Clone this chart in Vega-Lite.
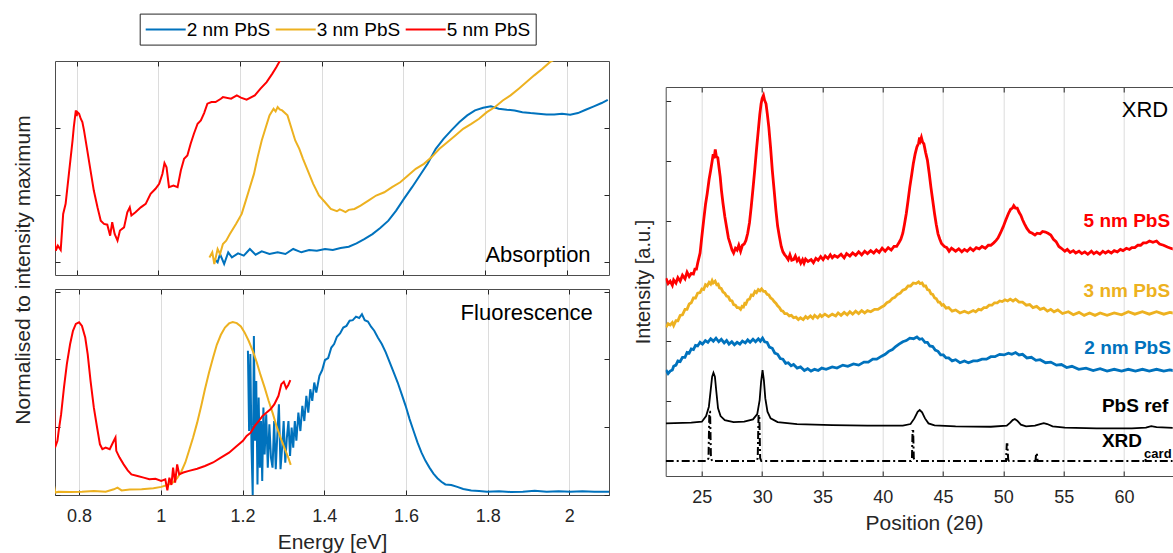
{
"$schema": "https://vega.github.io/schema/vega-lite/v6.json",
"background": "white",
"padding": {"left": 12, "top": 13, "right": 0, "bottom": 0},
"config": {
  "font": "Liberation Sans",
  "view": {"stroke": "#4d4d4d", "strokeWidth": 1},
  "axis": {"tickSize": -5, "labelPadding": 17, "domain": false, "grid": false, "tickColor": "#262626", "labelColor": "#262626", "titleColor": "#262626", "labelFontSize": 18, "titleFontSize": 21, "titleFontWeight": "normal", "domainColor": "#4d4d4d"}
},
"datasets": {
"abs": [
{"s":"2 nm PbS","E":1.137,"v":0.025},{"s":"2 nm PbS","E":1.145,"v":0.0},{"s":"2 nm PbS","E":1.151,"v":0.062},{"s":"2 nm PbS","E":1.161,"v":-0.012},{"s":"2 nm PbS","E":1.171,"v":0.075},{"s":"2 nm PbS","E":1.18,"v":0.037},{"s":"2 nm PbS","E":1.195,"v":0.067},{"s":"2 nm PbS","E":1.209,"v":0.05},{"s":"2 nm PbS","E":1.224,"v":0.1},{"s":"2 nm PbS","E":1.238,"v":0.057},{"s":"2 nm PbS","E":1.253,"v":0.082},{"s":"2 nm PbS","E":1.272,"v":0.062},{"s":"2 nm PbS","E":1.292,"v":0.075},{"s":"2 nm PbS","E":1.311,"v":0.062},{"s":"2 nm PbS","E":1.33,"v":0.1},{"s":"2 nm PbS","E":1.35,"v":0.075},{"s":"2 nm PbS","E":1.369,"v":0.092},{"s":"2 nm PbS","E":1.388,"v":0.087},{"s":"2 nm PbS","E":1.408,"v":0.1},{"s":"2 nm PbS","E":1.427,"v":0.092},{"s":"2 nm PbS","E":1.446,"v":0.107},{"s":"2 nm PbS","E":1.466,"v":0.117},{"s":"2 nm PbS","E":1.485,"v":0.142},{"s":"2 nm PbS","E":1.504,"v":0.174},{"s":"2 nm PbS","E":1.524,"v":0.211},{"s":"2 nm PbS","E":1.543,"v":0.256},{"s":"2 nm PbS","E":1.563,"v":0.311},{"s":"2 nm PbS","E":1.582,"v":0.386},{"s":"2 nm PbS","E":1.601,"v":0.473},{"s":"2 nm PbS","E":1.621,"v":0.56},{"s":"2 nm PbS","E":1.64,"v":0.647},{"s":"2 nm PbS","E":1.659,"v":0.734},{"s":"2 nm PbS","E":1.679,"v":0.846},{"s":"2 nm PbS","E":1.698,"v":0.92},{"s":"2 nm PbS","E":1.717,"v":0.983},{"s":"2 nm PbS","E":1.737,"v":1.045},{"s":"2 nm PbS","E":1.756,"v":1.095},{"s":"2 nm PbS","E":1.775,"v":1.132},{"s":"2 nm PbS","E":1.795,"v":1.152},{"s":"2 nm PbS","E":1.814,"v":1.162},{"s":"2 nm PbS","E":1.833,"v":1.144},{"s":"2 nm PbS","E":1.853,"v":1.137},{"s":"2 nm PbS","E":1.872,"v":1.132},{"s":"2 nm PbS","E":1.891,"v":1.119},{"s":"2 nm PbS","E":1.911,"v":1.112},{"s":"2 nm PbS","E":1.93,"v":1.107},{"s":"2 nm PbS","E":1.95,"v":1.102},{"s":"2 nm PbS","E":1.969,"v":1.102},{"s":"2 nm PbS","E":1.988,"v":1.107},{"s":"2 nm PbS","E":2.008,"v":1.1},{"s":"2 nm PbS","E":2.027,"v":1.112},{"s":"2 nm PbS","E":2.046,"v":1.137},{"s":"2 nm PbS","E":2.066,"v":1.162},{"s":"2 nm PbS","E":2.085,"v":1.187},{"s":"2 nm PbS","E":2.1,"v":1.211},
{"s":"3 nm PbS","E":1.125,"v":0.037},{"s":"3 nm PbS","E":1.132,"v":0.075},{"s":"3 nm PbS","E":1.137,"v":-0.012},{"s":"3 nm PbS","E":1.145,"v":0.1},{"s":"3 nm PbS","E":1.151,"v":0.062},{"s":"3 nm PbS","E":1.158,"v":0.137},{"s":"3 nm PbS","E":1.166,"v":0.162},{"s":"3 nm PbS","E":1.175,"v":0.211},{"s":"3 nm PbS","E":1.19,"v":0.286},{"s":"3 nm PbS","E":1.204,"v":0.361},{"s":"3 nm PbS","E":1.214,"v":0.46},{"s":"3 nm PbS","E":1.224,"v":0.56},{"s":"3 nm PbS","E":1.234,"v":0.659},{"s":"3 nm PbS","E":1.243,"v":0.784},{"s":"3 nm PbS","E":1.253,"v":0.908},{"s":"3 nm PbS","E":1.263,"v":1.007},{"s":"3 nm PbS","E":1.272,"v":1.095},{"s":"3 nm PbS","E":1.282,"v":1.144},{"s":"3 nm PbS","E":1.287,"v":1.125},{"s":"3 nm PbS","E":1.292,"v":1.157},{"s":"3 nm PbS","E":1.297,"v":1.14},{"s":"3 nm PbS","E":1.303,"v":1.132},{"s":"3 nm PbS","E":1.316,"v":1.095},{"s":"3 nm PbS","E":1.325,"v":1.007},{"s":"3 nm PbS","E":1.335,"v":0.908},{"s":"3 nm PbS","E":1.345,"v":0.846},{"s":"3 nm PbS","E":1.354,"v":0.771},{"s":"3 nm PbS","E":1.364,"v":0.697},{"s":"3 nm PbS","E":1.379,"v":0.585},{"s":"3 nm PbS","E":1.393,"v":0.498},{"s":"3 nm PbS","E":1.408,"v":0.448},{"s":"3 nm PbS","E":1.422,"v":0.398},{"s":"3 nm PbS","E":1.437,"v":0.381},{"s":"3 nm PbS","E":1.444,"v":0.395},{"s":"3 nm PbS","E":1.451,"v":0.386},{"s":"3 nm PbS","E":1.458,"v":0.375},{"s":"3 nm PbS","E":1.466,"v":0.391},{"s":"3 nm PbS","E":1.48,"v":0.398},{"s":"3 nm PbS","E":1.495,"v":0.423},{"s":"3 nm PbS","E":1.514,"v":0.46},{"s":"3 nm PbS","E":1.533,"v":0.498},{"s":"3 nm PbS","E":1.553,"v":0.522},{"s":"3 nm PbS","E":1.572,"v":0.56},{"s":"3 nm PbS","E":1.592,"v":0.597},{"s":"3 nm PbS","E":1.611,"v":0.647},{"s":"3 nm PbS","E":1.63,"v":0.697},{"s":"3 nm PbS","E":1.65,"v":0.734},{"s":"3 nm PbS","E":1.669,"v":0.784},{"s":"3 nm PbS","E":1.688,"v":0.846},{"s":"3 nm PbS","E":1.708,"v":0.896},{"s":"3 nm PbS","E":1.727,"v":0.945},{"s":"3 nm PbS","E":1.746,"v":0.995},{"s":"3 nm PbS","E":1.766,"v":1.032},{"s":"3 nm PbS","E":1.785,"v":1.07},{"s":"3 nm PbS","E":1.804,"v":1.119},{"s":"3 nm PbS","E":1.824,"v":1.157},{"s":"3 nm PbS","E":1.843,"v":1.206},{"s":"3 nm PbS","E":1.862,"v":1.244},{"s":"3 nm PbS","E":1.882,"v":1.294},{"s":"3 nm PbS","E":1.901,"v":1.343},{"s":"3 nm PbS","E":1.92,"v":1.393},{"s":"3 nm PbS","E":1.94,"v":1.443},{"s":"3 nm PbS","E":1.959,"v":1.493},{"s":"3 nm PbS","E":1.969,"v":1.51},
{"s":"5 nm PbS","E":0.744,"v":0.212},{"s":"5 nm PbS","E":0.749,"v":0.087},{"s":"5 nm PbS","E":0.754,"v":0.125},{"s":"5 nm PbS","E":0.761,"v":0.092},{"s":"5 nm PbS","E":0.767,"v":0.361},{"s":"5 nm PbS","E":0.773,"v":0.436},{"s":"5 nm PbS","E":0.781,"v":0.66},{"s":"5 nm PbS","E":0.79,"v":0.908},{"s":"5 nm PbS","E":0.793,"v":1.007},{"s":"5 nm PbS","E":0.798,"v":1.132},{"s":"5 nm PbS","E":0.8,"v":1.09},{"s":"5 nm PbS","E":0.802,"v":1.119},{"s":"5 nm PbS","E":0.806,"v":1.107},{"s":"5 nm PbS","E":0.81,"v":1.07},{"s":"5 nm PbS","E":0.814,"v":1.045},{"s":"5 nm PbS","E":0.818,"v":0.983},{"s":"5 nm PbS","E":0.826,"v":0.834},{"s":"5 nm PbS","E":0.834,"v":0.684},{"s":"5 nm PbS","E":0.842,"v":0.535},{"s":"5 nm PbS","E":0.851,"v":0.41},{"s":"5 nm PbS","E":0.859,"v":0.311},{"s":"5 nm PbS","E":0.867,"v":0.287},{"s":"5 nm PbS","E":0.875,"v":0.281},{"s":"5 nm PbS","E":0.882,"v":0.199},{"s":"5 nm PbS","E":0.887,"v":0.299},{"s":"5 nm PbS","E":0.893,"v":0.212},{"s":"5 nm PbS","E":0.9,"v":0.162},{"s":"5 nm PbS","E":0.906,"v":0.237},{"s":"5 nm PbS","E":0.916,"v":0.261},{"s":"5 nm PbS","E":0.924,"v":0.373},{"s":"5 nm PbS","E":0.93,"v":0.41},{"s":"5 nm PbS","E":0.934,"v":0.349},{"s":"5 nm PbS","E":0.944,"v":0.373},{"s":"5 nm PbS","E":0.957,"v":0.41},{"s":"5 nm PbS","E":0.969,"v":0.436},{"s":"5 nm PbS","E":0.981,"v":0.51},{"s":"5 nm PbS","E":0.993,"v":0.548},{"s":"5 nm PbS","E":1.002,"v":0.585},{"s":"5 nm PbS","E":1.01,"v":0.66},{"s":"5 nm PbS","E":1.015,"v":0.739},{"s":"5 nm PbS","E":1.02,"v":0.709},{"s":"5 nm PbS","E":1.026,"v":0.56},{"s":"5 nm PbS","E":1.037,"v":0.572},{"s":"5 nm PbS","E":1.047,"v":0.56},{"s":"5 nm PbS","E":1.055,"v":0.684},{"s":"5 nm PbS","E":1.063,"v":0.772},{"s":"5 nm PbS","E":1.071,"v":0.796},{"s":"5 nm PbS","E":1.079,"v":0.884},{"s":"5 nm PbS","E":1.087,"v":0.958},{"s":"5 nm PbS","E":1.096,"v":1.033},{"s":"5 nm PbS","E":1.104,"v":1.057},{"s":"5 nm PbS","E":1.112,"v":1.112},{"s":"5 nm PbS","E":1.12,"v":1.182},{"s":"5 nm PbS","E":1.13,"v":1.194},{"s":"5 nm PbS","E":1.14,"v":1.194},{"s":"5 nm PbS","E":1.153,"v":1.219},{"s":"5 nm PbS","E":1.158,"v":1.231},{"s":"5 nm PbS","E":1.178,"v":1.219},{"s":"5 nm PbS","E":1.192,"v":1.244},{"s":"5 nm PbS","E":1.202,"v":1.227},{"s":"5 nm PbS","E":1.216,"v":1.212},{"s":"5 nm PbS","E":1.236,"v":1.244},{"s":"5 nm PbS","E":1.25,"v":1.294},{"s":"5 nm PbS","E":1.265,"v":1.343},{"s":"5 nm PbS","E":1.279,"v":1.406},{"s":"5 nm PbS","E":1.289,"v":1.455},{"s":"5 nm PbS","E":1.299,"v":1.51}
],
"fluo": [
{"s":"2 nm PbS","E":1.2132,"v":0.532},{"s":"2 nm PbS","E":1.2161,"v":0.236},{"s":"2 nm PbS","E":1.2191,"v":0.52},{"s":"2 nm PbS","E":1.222,"v":0.175},{"s":"2 nm PbS","E":1.2249,"v":0.0},{"s":"2 nm PbS","E":1.2278,"v":0.587},{"s":"2 nm PbS","E":1.2307,"v":0.2},{"s":"2 nm PbS","E":1.2336,"v":0.421},{"s":"2 nm PbS","E":1.2366,"v":0.039},{"s":"2 nm PbS","E":1.2395,"v":0.36},{"s":"2 nm PbS","E":1.2424,"v":0.101},{"s":"2 nm PbS","E":1.2453,"v":0.273},{"s":"2 nm PbS","E":1.2482,"v":0.052},{"s":"2 nm PbS","E":1.2511,"v":0.323},{"s":"2 nm PbS","E":1.2541,"v":0.15},{"s":"2 nm PbS","E":1.258,"v":0.298},{"s":"2 nm PbS","E":1.2618,"v":0.101},{"s":"2 nm PbS","E":1.2657,"v":0.261},{"s":"2 nm PbS","E":1.2696,"v":0.138},{"s":"2 nm PbS","E":1.2735,"v":0.101},{"s":"2 nm PbS","E":1.2774,"v":0.273},{"s":"2 nm PbS","E":1.2813,"v":0.095},{"s":"2 nm PbS","E":1.2852,"v":0.224},{"s":"2 nm PbS","E":1.2891,"v":0.335},{"s":"2 nm PbS","E":1.293,"v":0.095},{"s":"2 nm PbS","E":1.2969,"v":0.175},{"s":"2 nm PbS","E":1.3007,"v":0.273},{"s":"2 nm PbS","E":1.3046,"v":0.119},{"s":"2 nm PbS","E":1.3085,"v":0.212},{"s":"2 nm PbS","E":1.3124,"v":0.273},{"s":"2 nm PbS","E":1.3163,"v":0.144},{"s":"2 nm PbS","E":1.3202,"v":0.249},{"s":"2 nm PbS","E":1.3241,"v":0.175},{"s":"2 nm PbS","E":1.328,"v":0.273},{"s":"2 nm PbS","E":1.3318,"v":0.2},{"s":"2 nm PbS","E":1.3367,"v":0.304},{"s":"2 nm PbS","E":1.3416,"v":0.236},{"s":"2 nm PbS","E":1.3464,"v":0.329},{"s":"2 nm PbS","E":1.3513,"v":0.273},{"s":"2 nm PbS","E":1.3562,"v":0.366},{"s":"2 nm PbS","E":1.361,"v":0.304},{"s":"2 nm PbS","E":1.3659,"v":0.39},{"s":"2 nm PbS","E":1.3707,"v":0.347},{"s":"2 nm PbS","E":1.3756,"v":0.415},{"s":"2 nm PbS","E":1.3805,"v":0.378},{"s":"2 nm PbS","E":1.3882,"v":0.44},{"s":"2 nm PbS","E":1.395,"v":0.461},{"s":"2 nm PbS","E":1.4018,"v":0.498},{"s":"2 nm PbS","E":1.4096,"v":0.505},{"s":"2 nm PbS","E":1.4174,"v":0.544},{"s":"2 nm PbS","E":1.4242,"v":0.557},{"s":"2 nm PbS","E":1.431,"v":0.584},{"s":"2 nm PbS","E":1.4388,"v":0.596},{"s":"2 nm PbS","E":1.4466,"v":0.618},{"s":"2 nm PbS","E":1.4544,"v":0.624},{"s":"2 nm PbS","E":1.4621,"v":0.643},{"s":"2 nm PbS","E":1.4699,"v":0.645},{"s":"2 nm PbS","E":1.4777,"v":0.658},{"s":"2 nm PbS","E":1.4855,"v":0.653},{"s":"2 nm PbS","E":1.4923,"v":0.667},{"s":"2 nm PbS","E":1.4991,"v":0.645},{"s":"2 nm PbS","E":1.5069,"v":0.64},{"s":"2 nm PbS","E":1.5146,"v":0.621},{"s":"2 nm PbS","E":1.5224,"v":0.606},{"s":"2 nm PbS","E":1.5312,"v":0.581},{"s":"2 nm PbS","E":1.5409,"v":0.557},{"s":"2 nm PbS","E":1.5506,"v":0.526},{"s":"2 nm PbS","E":1.5603,"v":0.489},{"s":"2 nm PbS","E":1.57,"v":0.452},{"s":"2 nm PbS","E":1.5798,"v":0.415},{"s":"2 nm PbS","E":1.5895,"v":0.372},{"s":"2 nm PbS","E":1.5992,"v":0.329},{"s":"2 nm PbS","E":1.6089,"v":0.28},{"s":"2 nm PbS","E":1.6187,"v":0.236},{"s":"2 nm PbS","E":1.6284,"v":0.193},{"s":"2 nm PbS","E":1.6381,"v":0.156},{"s":"2 nm PbS","E":1.6478,"v":0.126},{"s":"2 nm PbS","E":1.6576,"v":0.101},{"s":"2 nm PbS","E":1.6673,"v":0.079},{"s":"2 nm PbS","E":1.677,"v":0.062},{"s":"2 nm PbS","E":1.6867,"v":0.049},{"s":"2 nm PbS","E":1.6965,"v":0.039},{"s":"2 nm PbS","E":1.711,"v":0.037},{"s":"2 nm PbS","E":1.7256,"v":0.03},{"s":"2 nm PbS","E":1.7402,"v":0.022},{"s":"2 nm PbS","E":1.7597,"v":0.017},{"s":"2 nm PbS","E":1.7791,"v":0.015},{"s":"2 nm PbS","E":1.7985,"v":0.012},{"s":"2 nm PbS","E":1.8277,"v":0.014},{"s":"2 nm PbS","E":1.8569,"v":0.011},{"s":"2 nm PbS","E":1.8861,"v":0.012},{"s":"2 nm PbS","E":1.9152,"v":0.016},{"s":"2 nm PbS","E":1.9444,"v":0.012},{"s":"2 nm PbS","E":1.9736,"v":0.014},{"s":"2 nm PbS","E":2.0027,"v":0.012},{"s":"2 nm PbS","E":2.0319,"v":0.014},{"s":"2 nm PbS","E":2.0611,"v":0.012},{"s":"2 nm PbS","E":2.098,"v":0.012},
{"s":"3 nm PbS","E":0.737,"v":0.046},{"s":"3 nm PbS","E":0.742,"v":0.009},{"s":"3 nm PbS","E":0.749,"v":0.012},{"s":"3 nm PbS","E":0.778,"v":0.011},{"s":"3 nm PbS","E":0.807,"v":0.012},{"s":"3 nm PbS","E":0.836,"v":0.015},{"s":"3 nm PbS","E":0.865,"v":0.012},{"s":"3 nm PbS","E":0.885,"v":0.021},{"s":"3 nm PbS","E":0.894,"v":0.027},{"s":"3 nm PbS","E":0.904,"v":0.017},{"s":"3 nm PbS","E":0.924,"v":0.02},{"s":"3 nm PbS","E":0.953,"v":0.021},{"s":"3 nm PbS","E":0.982,"v":0.025},{"s":"3 nm PbS","E":1.001,"v":0.03},{"s":"3 nm PbS","E":1.016,"v":0.037},{"s":"3 nm PbS","E":1.03,"v":0.046},{"s":"3 nm PbS","E":1.04,"v":0.062},{"s":"3 nm PbS","E":1.05,"v":0.086},{"s":"3 nm PbS","E":1.06,"v":0.12},{"s":"3 nm PbS","E":1.069,"v":0.163},{"s":"3 nm PbS","E":1.079,"v":0.212},{"s":"3 nm PbS","E":1.089,"v":0.267},{"s":"3 nm PbS","E":1.099,"v":0.329},{"s":"3 nm PbS","E":1.108,"v":0.39},{"s":"3 nm PbS","E":1.118,"v":0.452},{"s":"3 nm PbS","E":1.128,"v":0.507},{"s":"3 nm PbS","E":1.137,"v":0.554},{"s":"3 nm PbS","E":1.147,"v":0.591},{"s":"3 nm PbS","E":1.157,"v":0.618},{"s":"3 nm PbS","E":1.167,"v":0.633},{"s":"3 nm PbS","E":1.176,"v":0.638},{"s":"3 nm PbS","E":1.186,"v":0.634},{"s":"3 nm PbS","E":1.196,"v":0.622},{"s":"3 nm PbS","E":1.205,"v":0.6},{"s":"3 nm PbS","E":1.215,"v":0.569},{"s":"3 nm PbS","E":1.225,"v":0.532},{"s":"3 nm PbS","E":1.235,"v":0.489},{"s":"3 nm PbS","E":1.244,"v":0.443},{"s":"3 nm PbS","E":1.254,"v":0.397},{"s":"3 nm PbS","E":1.264,"v":0.347},{"s":"3 nm PbS","E":1.274,"v":0.301},{"s":"3 nm PbS","E":1.283,"v":0.255},{"s":"3 nm PbS","E":1.293,"v":0.212},{"s":"3 nm PbS","E":1.303,"v":0.172},{"s":"3 nm PbS","E":1.312,"v":0.138},{"s":"3 nm PbS","E":1.318,"v":0.111},
{"s":"5 nm PbS","E":0.739,"v":0.317},{"s":"5 nm PbS","E":0.741,"v":0.175},{"s":"5 nm PbS","E":0.747,"v":0.2},{"s":"5 nm PbS","E":0.75,"v":0.237},{"s":"5 nm PbS","E":0.756,"v":0.298},{"s":"5 nm PbS","E":0.763,"v":0.397},{"s":"5 nm PbS","E":0.77,"v":0.483},{"s":"5 nm PbS","E":0.778,"v":0.557},{"s":"5 nm PbS","E":0.785,"v":0.606},{"s":"5 nm PbS","E":0.792,"v":0.631},{"s":"5 nm PbS","E":0.8,"v":0.637},{"s":"5 nm PbS","E":0.807,"v":0.624},{"s":"5 nm PbS","E":0.815,"v":0.581},{"s":"5 nm PbS","E":0.821,"v":0.52},{"s":"5 nm PbS","E":0.828,"v":0.421},{"s":"5 nm PbS","E":0.836,"v":0.323},{"s":"5 nm PbS","E":0.844,"v":0.249},{"s":"5 nm PbS","E":0.851,"v":0.187},{"s":"5 nm PbS","E":0.857,"v":0.169},{"s":"5 nm PbS","E":0.865,"v":0.175},{"s":"5 nm PbS","E":0.875,"v":0.169},{"s":"5 nm PbS","E":0.885,"v":0.2},{"s":"5 nm PbS","E":0.889,"v":0.212},{"s":"5 nm PbS","E":0.891,"v":0.163},{"s":"5 nm PbS","E":0.899,"v":0.138},{"s":"5 nm PbS","E":0.909,"v":0.113},{"s":"5 nm PbS","E":0.919,"v":0.091},{"s":"5 nm PbS","E":0.928,"v":0.076},{"s":"5 nm PbS","E":0.943,"v":0.07},{"s":"5 nm PbS","E":0.958,"v":0.064},{"s":"5 nm PbS","E":0.972,"v":0.058},{"s":"5 nm PbS","E":0.987,"v":0.06},{"s":"5 nm PbS","E":1.001,"v":0.052},{"s":"5 nm PbS","E":1.011,"v":0.058},{"s":"5 nm PbS","E":1.016,"v":0.017},{"s":"5 nm PbS","E":1.021,"v":0.064},{"s":"5 nm PbS","E":1.026,"v":0.037},{"s":"5 nm PbS","E":1.03,"v":0.101},{"s":"5 nm PbS","E":1.035,"v":0.046},{"s":"5 nm PbS","E":1.04,"v":0.113},{"s":"5 nm PbS","E":1.045,"v":0.076},{"s":"5 nm PbS","E":1.055,"v":0.083},{"s":"5 nm PbS","E":1.069,"v":0.089},{"s":"5 nm PbS","E":1.089,"v":0.097},{"s":"5 nm PbS","E":1.108,"v":0.107},{"s":"5 nm PbS","E":1.128,"v":0.12},{"s":"5 nm PbS","E":1.147,"v":0.138},{"s":"5 nm PbS","E":1.167,"v":0.156},{"s":"5 nm PbS","E":1.186,"v":0.181},{"s":"5 nm PbS","E":1.201,"v":0.2},{"s":"5 nm PbS","E":1.21,"v":0.218},{"s":"5 nm PbS","E":1.22,"v":0.23},{"s":"5 nm PbS","E":1.23,"v":0.255},{"s":"5 nm PbS","E":1.24,"v":0.273},{"s":"5 nm PbS","E":1.249,"v":0.292},{"s":"5 nm PbS","E":1.259,"v":0.304},{"s":"5 nm PbS","E":1.269,"v":0.317},{"s":"5 nm PbS","E":1.278,"v":0.335},{"s":"5 nm PbS","E":1.288,"v":0.366},{"s":"5 nm PbS","E":1.295,"v":0.409},{"s":"5 nm PbS","E":1.301,"v":0.418},{"s":"5 nm PbS","E":1.307,"v":0.394},{"s":"5 nm PbS","E":1.312,"v":0.406},{"s":"5 nm PbS","E":1.317,"v":0.424}
],
"xrd": [
{"s":"2 nm PbS","t":22.02,"v":1.52},{"s":"2 nm PbS","t":22.2,"v":1.46},{"s":"2 nm PbS","t":22.37,"v":1.5},{"s":"2 nm PbS","t":22.55,"v":1.52},{"s":"2 nm PbS","t":22.66,"v":1.58},{"s":"2 nm PbS","t":22.85,"v":1.6},{"s":"2 nm PbS","t":23.01,"v":1.67},{"s":"2 nm PbS","t":23.2,"v":1.66},{"s":"2 nm PbS","t":23.39,"v":1.73},{"s":"2 nm PbS","t":23.6,"v":1.73},{"s":"2 nm PbS","t":23.77,"v":1.81},{"s":"2 nm PbS","t":23.95,"v":1.8},{"s":"2 nm PbS","t":24.12,"v":1.87},{"s":"2 nm PbS","t":24.3,"v":1.86},{"s":"2 nm PbS","t":24.47,"v":1.93},{"s":"2 nm PbS","t":24.65,"v":1.92},{"s":"2 nm PbS","t":24.85,"v":1.98},{"s":"2 nm PbS","t":25.05,"v":1.95},{"s":"2 nm PbS","t":25.29,"v":2.01},{"s":"2 nm PbS","t":25.5,"v":1.98},{"s":"2 nm PbS","t":25.73,"v":2.04},{"s":"2 nm PbS","t":25.95,"v":2.0},{"s":"2 nm PbS","t":26.17,"v":2.05},{"s":"2 nm PbS","t":26.4,"v":1.99},{"s":"2 nm PbS","t":26.61,"v":2.03},{"s":"2 nm PbS","t":26.85,"v":1.97},{"s":"2 nm PbS","t":27.05,"v":2.01},{"s":"2 nm PbS","t":27.25,"v":1.95},{"s":"2 nm PbS","t":27.48,"v":1.99},{"s":"2 nm PbS","t":27.7,"v":1.94},{"s":"2 nm PbS","t":27.92,"v":1.98},{"s":"2 nm PbS","t":28.15,"v":1.95},{"s":"2 nm PbS","t":28.36,"v":2.0},{"s":"2 nm PbS","t":28.6,"v":1.97},{"s":"2 nm PbS","t":28.8,"v":2.02},{"s":"2 nm PbS","t":29.0,"v":1.98},{"s":"2 nm PbS","t":29.24,"v":2.03},{"s":"2 nm PbS","t":29.45,"v":1.99},{"s":"2 nm PbS","t":29.68,"v":2.04},{"s":"2 nm PbS","t":29.85,"v":2.0},{"s":"2 nm PbS","t":30.03,"v":2.05},{"s":"2 nm PbS","t":30.2,"v":1.99},{"s":"2 nm PbS","t":30.41,"v":1.98},{"s":"2 nm PbS","t":30.6,"v":1.9},{"s":"2 nm PbS","t":30.84,"v":1.88},{"s":"2 nm PbS","t":31.05,"v":1.8},{"s":"2 nm PbS","t":31.28,"v":1.78},{"s":"2 nm PbS","t":31.5,"v":1.71},{"s":"2 nm PbS","t":31.72,"v":1.7},{"s":"2 nm PbS","t":31.95,"v":1.63},{"s":"2 nm PbS","t":32.16,"v":1.64},{"s":"2 nm PbS","t":32.4,"v":1.59},{"s":"2 nm PbS","t":32.6,"v":1.61},{"s":"2 nm PbS","t":32.9,"v":1.55},{"s":"2 nm PbS","t":33.18,"v":1.57},{"s":"2 nm PbS","t":33.5,"v":1.51},{"s":"2 nm PbS","t":33.77,"v":1.54},{"s":"2 nm PbS","t":34.05,"v":1.5},{"s":"2 nm PbS","t":34.35,"v":1.53},{"s":"2 nm PbS","t":34.65,"v":1.51},{"s":"2 nm PbS","t":34.94,"v":1.55},{"s":"2 nm PbS","t":35.3,"v":1.53},{"s":"2 nm PbS","t":35.81,"v":1.57},{"s":"2 nm PbS","t":36.2,"v":1.55},{"s":"2 nm PbS","t":36.69,"v":1.6},{"s":"2 nm PbS","t":37.1,"v":1.58},{"s":"2 nm PbS","t":37.57,"v":1.62},{"s":"2 nm PbS","t":38.0,"v":1.6},{"s":"2 nm PbS","t":38.44,"v":1.65},{"s":"2 nm PbS","t":38.8,"v":1.65},{"s":"2 nm PbS","t":39.17,"v":1.7},{"s":"2 nm PbS","t":39.5,"v":1.7},{"s":"2 nm PbS","t":39.9,"v":1.75},{"s":"2 nm PbS","t":40.2,"v":1.78},{"s":"2 nm PbS","t":40.49,"v":1.83},{"s":"2 nm PbS","t":40.8,"v":1.86},{"s":"2 nm PbS","t":41.07,"v":1.91},{"s":"2 nm PbS","t":41.35,"v":1.95},{"s":"2 nm PbS","t":41.66,"v":1.99},{"s":"2 nm PbS","t":41.95,"v":2.01},{"s":"2 nm PbS","t":42.24,"v":2.05},{"s":"2 nm PbS","t":42.55,"v":2.04},{"s":"2 nm PbS","t":42.83,"v":2.07},{"s":"2 nm PbS","t":43.05,"v":2.03},{"s":"2 nm PbS","t":43.26,"v":2.04},{"s":"2 nm PbS","t":43.5,"v":1.98},{"s":"2 nm PbS","t":43.7,"v":1.98},{"s":"2 nm PbS","t":43.9,"v":1.92},{"s":"2 nm PbS","t":44.14,"v":1.91},{"s":"2 nm PbS","t":44.35,"v":1.85},{"s":"2 nm PbS","t":44.58,"v":1.83},{"s":"2 nm PbS","t":44.8,"v":1.77},{"s":"2 nm PbS","t":45.02,"v":1.77},{"s":"2 nm PbS","t":45.25,"v":1.72},{"s":"2 nm PbS","t":45.46,"v":1.72},{"s":"2 nm PbS","t":45.75,"v":1.67},{"s":"2 nm PbS","t":46.04,"v":1.69},{"s":"2 nm PbS","t":46.4,"v":1.64},{"s":"2 nm PbS","t":46.77,"v":1.67},{"s":"2 nm PbS","t":47.1,"v":1.64},{"s":"2 nm PbS","t":47.5,"v":1.67},{"s":"2 nm PbS","t":47.85,"v":1.67},{"s":"2 nm PbS","t":48.23,"v":1.7},{"s":"2 nm PbS","t":48.6,"v":1.7},{"s":"2 nm PbS","t":48.96,"v":1.74},{"s":"2 nm PbS","t":49.3,"v":1.74},{"s":"2 nm PbS","t":49.69,"v":1.78},{"s":"2 nm PbS","t":50.05,"v":1.77},{"s":"2 nm PbS","t":50.42,"v":1.8},{"s":"2 nm PbS","t":50.7,"v":1.78},{"s":"2 nm PbS","t":51.01,"v":1.81},{"s":"2 nm PbS","t":51.3,"v":1.77},{"s":"2 nm PbS","t":51.59,"v":1.78},{"s":"2 nm PbS","t":51.95,"v":1.72},{"s":"2 nm PbS","t":52.32,"v":1.73},{"s":"2 nm PbS","t":52.7,"v":1.68},{"s":"2 nm PbS","t":53.05,"v":1.69},{"s":"2 nm PbS","t":53.5,"v":1.64},{"s":"2 nm PbS","t":53.93,"v":1.65},{"s":"2 nm PbS","t":54.4,"v":1.6},{"s":"2 nm PbS","t":54.81,"v":1.61},{"s":"2 nm PbS","t":55.25,"v":1.56},{"s":"2 nm PbS","t":55.68,"v":1.58},{"s":"2 nm PbS","t":56.25,"v":1.53},{"s":"2 nm PbS","t":56.85,"v":1.55},{"s":"2 nm PbS","t":57.45,"v":1.51},{"s":"2 nm PbS","t":58.02,"v":1.54},{"s":"2 nm PbS","t":58.6,"v":1.5},{"s":"2 nm PbS","t":59.19,"v":1.53},{"s":"2 nm PbS","t":59.8,"v":1.5},{"s":"2 nm PbS","t":60.36,"v":1.53},{"s":"2 nm PbS","t":60.95,"v":1.5},{"s":"2 nm PbS","t":61.53,"v":1.53},{"s":"2 nm PbS","t":62.1,"v":1.5},{"s":"2 nm PbS","t":62.7,"v":1.53},{"s":"2 nm PbS","t":63.3,"v":1.5},{"s":"2 nm PbS","t":63.8,"v":1.52},{"s":"2 nm PbS","t":64.3,"v":1.5},
{"s":"3 nm PbS","t":22.02,"v":2.23},{"s":"3 nm PbS","t":22.2,"v":2.29},{"s":"3 nm PbS","t":22.37,"v":2.27},{"s":"3 nm PbS","t":22.55,"v":2.31},{"s":"3 nm PbS","t":22.66,"v":2.26},{"s":"3 nm PbS","t":22.85,"v":2.34},{"s":"3 nm PbS","t":23.01,"v":2.34},{"s":"3 nm PbS","t":23.2,"v":2.43},{"s":"3 nm PbS","t":23.39,"v":2.44},{"s":"3 nm PbS","t":23.6,"v":2.53},{"s":"3 nm PbS","t":23.77,"v":2.53},{"s":"3 nm PbS","t":23.95,"v":2.62},{"s":"3 nm PbS","t":24.12,"v":2.64},{"s":"3 nm PbS","t":24.3,"v":2.72},{"s":"3 nm PbS","t":24.47,"v":2.72},{"s":"3 nm PbS","t":24.65,"v":2.8},{"s":"3 nm PbS","t":24.85,"v":2.81},{"s":"3 nm PbS","t":25.0,"v":2.87},{"s":"3 nm PbS","t":25.15,"v":2.86},{"s":"3 nm PbS","t":25.3,"v":2.94},{"s":"3 nm PbS","t":25.44,"v":2.92},{"s":"3 nm PbS","t":25.6,"v":2.98},{"s":"3 nm PbS","t":25.73,"v":2.95},{"s":"3 nm PbS","t":25.85,"v":3.01},{"s":"3 nm PbS","t":25.94,"v":2.97},{"s":"3 nm PbS","t":26.1,"v":3.0},{"s":"3 nm PbS","t":26.23,"v":2.94},{"s":"3 nm PbS","t":26.35,"v":2.95},{"s":"3 nm PbS","t":26.46,"v":2.89},{"s":"3 nm PbS","t":26.6,"v":2.88},{"s":"3 nm PbS","t":26.75,"v":2.82},{"s":"3 nm PbS","t":26.9,"v":2.8},{"s":"3 nm PbS","t":27.05,"v":2.75},{"s":"3 nm PbS","t":27.2,"v":2.74},{"s":"3 nm PbS","t":27.34,"v":2.68},{"s":"3 nm PbS","t":27.5,"v":2.67},{"s":"3 nm PbS","t":27.63,"v":2.61},{"s":"3 nm PbS","t":27.78,"v":2.6},{"s":"3 nm PbS","t":27.92,"v":2.56},{"s":"3 nm PbS","t":28.06,"v":2.56},{"s":"3 nm PbS","t":28.21,"v":2.53},{"s":"3 nm PbS","t":28.33,"v":2.58},{"s":"3 nm PbS","t":28.45,"v":2.57},{"s":"3 nm PbS","t":28.55,"v":2.63},{"s":"3 nm PbS","t":28.65,"v":2.62},{"s":"3 nm PbS","t":28.8,"v":2.69},{"s":"3 nm PbS","t":28.95,"v":2.7},{"s":"3 nm PbS","t":29.1,"v":2.77},{"s":"3 nm PbS","t":29.24,"v":2.76},{"s":"3 nm PbS","t":29.4,"v":2.83},{"s":"3 nm PbS","t":29.53,"v":2.81},{"s":"3 nm PbS","t":29.68,"v":2.86},{"s":"3 nm PbS","t":29.82,"v":2.84},{"s":"3 nm PbS","t":29.95,"v":2.87},{"s":"3 nm PbS","t":30.11,"v":2.83},{"s":"3 nm PbS","t":30.25,"v":2.83},{"s":"3 nm PbS","t":30.41,"v":2.78},{"s":"3 nm PbS","t":30.55,"v":2.77},{"s":"3 nm PbS","t":30.7,"v":2.72},{"s":"3 nm PbS","t":30.85,"v":2.7},{"s":"3 nm PbS","t":30.99,"v":2.66},{"s":"3 nm PbS","t":31.15,"v":2.63},{"s":"3 nm PbS","t":31.28,"v":2.59},{"s":"3 nm PbS","t":31.43,"v":2.56},{"s":"3 nm PbS","t":31.58,"v":2.51},{"s":"3 nm PbS","t":31.72,"v":2.5},{"s":"3 nm PbS","t":31.87,"v":2.46},{"s":"3 nm PbS","t":32.05,"v":2.46},{"s":"3 nm PbS","t":32.25,"v":2.42},{"s":"3 nm PbS","t":32.42,"v":2.43},{"s":"3 nm PbS","t":32.6,"v":2.39},{"s":"3 nm PbS","t":32.8,"v":2.4},{"s":"3 nm PbS","t":33.0,"v":2.36},{"s":"3 nm PbS","t":33.18,"v":2.39},{"s":"3 nm PbS","t":33.4,"v":2.36},{"s":"3 nm PbS","t":33.6,"v":2.41},{"s":"3 nm PbS","t":33.77,"v":2.38},{"s":"3 nm PbS","t":34.0,"v":2.42},{"s":"3 nm PbS","t":34.2,"v":2.38},{"s":"3 nm PbS","t":34.35,"v":2.43},{"s":"3 nm PbS","t":34.6,"v":2.39},{"s":"3 nm PbS","t":34.8,"v":2.44},{"s":"3 nm PbS","t":34.94,"v":2.41},{"s":"3 nm PbS","t":35.2,"v":2.45},{"s":"3 nm PbS","t":35.5,"v":2.41},{"s":"3 nm PbS","t":35.81,"v":2.45},{"s":"3 nm PbS","t":36.1,"v":2.42},{"s":"3 nm PbS","t":36.3,"v":2.47},{"s":"3 nm PbS","t":36.54,"v":2.43},{"s":"3 nm PbS","t":36.8,"v":2.48},{"s":"3 nm PbS","t":37.05,"v":2.44},{"s":"3 nm PbS","t":37.27,"v":2.49},{"s":"3 nm PbS","t":37.5,"v":2.45},{"s":"3 nm PbS","t":37.75,"v":2.5},{"s":"3 nm PbS","t":38.0,"v":2.46},{"s":"3 nm PbS","t":38.25,"v":2.51},{"s":"3 nm PbS","t":38.5,"v":2.47},{"s":"3 nm PbS","t":38.73,"v":2.51},{"s":"3 nm PbS","t":39.0,"v":2.49},{"s":"3 nm PbS","t":39.32,"v":2.53},{"s":"3 nm PbS","t":39.6,"v":2.53},{"s":"3 nm PbS","t":39.9,"v":2.57},{"s":"3 nm PbS","t":40.1,"v":2.59},{"s":"3 nm PbS","t":40.34,"v":2.64},{"s":"3 nm PbS","t":40.55,"v":2.66},{"s":"3 nm PbS","t":40.78,"v":2.71},{"s":"3 nm PbS","t":41.0,"v":2.73},{"s":"3 nm PbS","t":41.22,"v":2.78},{"s":"3 nm PbS","t":41.45,"v":2.8},{"s":"3 nm PbS","t":41.66,"v":2.85},{"s":"3 nm PbS","t":41.9,"v":2.87},{"s":"3 nm PbS","t":42.1,"v":2.92},{"s":"3 nm PbS","t":42.3,"v":2.92},{"s":"3 nm PbS","t":42.53,"v":2.97},{"s":"3 nm PbS","t":42.75,"v":2.96},{"s":"3 nm PbS","t":42.97,"v":2.99},{"s":"3 nm PbS","t":43.1,"v":2.96},{"s":"3 nm PbS","t":43.26,"v":2.97},{"s":"3 nm PbS","t":43.4,"v":2.92},{"s":"3 nm PbS","t":43.56,"v":2.92},{"s":"3 nm PbS","t":43.7,"v":2.86},{"s":"3 nm PbS","t":43.85,"v":2.85},{"s":"3 nm PbS","t":44.0,"v":2.79},{"s":"3 nm PbS","t":44.14,"v":2.78},{"s":"3 nm PbS","t":44.3,"v":2.72},{"s":"3 nm PbS","t":44.43,"v":2.71},{"s":"3 nm PbS","t":44.6,"v":2.65},{"s":"3 nm PbS","t":44.73,"v":2.65},{"s":"3 nm PbS","t":44.9,"v":2.6},{"s":"3 nm PbS","t":45.02,"v":2.61},{"s":"3 nm PbS","t":45.25,"v":2.55},{"s":"3 nm PbS","t":45.46,"v":2.56},{"s":"3 nm PbS","t":45.75,"v":2.5},{"s":"3 nm PbS","t":46.04,"v":2.52},{"s":"3 nm PbS","t":46.4,"v":2.47},{"s":"3 nm PbS","t":46.77,"v":2.5},{"s":"3 nm PbS","t":47.1,"v":2.47},{"s":"3 nm PbS","t":47.5,"v":2.51},{"s":"3 nm PbS","t":47.7,"v":2.49},{"s":"3 nm PbS","t":47.94,"v":2.53},{"s":"3 nm PbS","t":48.15,"v":2.52},{"s":"3 nm PbS","t":48.38,"v":2.56},{"s":"3 nm PbS","t":48.6,"v":2.56},{"s":"3 nm PbS","t":48.82,"v":2.6},{"s":"3 nm PbS","t":49.05,"v":2.6},{"s":"3 nm PbS","t":49.26,"v":2.64},{"s":"3 nm PbS","t":49.5,"v":2.64},{"s":"3 nm PbS","t":49.69,"v":2.67},{"s":"3 nm PbS","t":49.9,"v":2.66},{"s":"3 nm PbS","t":50.13,"v":2.69},{"s":"3 nm PbS","t":50.35,"v":2.67},{"s":"3 nm PbS","t":50.57,"v":2.7},{"s":"3 nm PbS","t":50.8,"v":2.67},{"s":"3 nm PbS","t":51.01,"v":2.7},{"s":"3 nm PbS","t":51.3,"v":2.65},{"s":"3 nm PbS","t":51.59,"v":2.65},{"s":"3 nm PbS","t":51.9,"v":2.6},{"s":"3 nm PbS","t":52.18,"v":2.61},{"s":"3 nm PbS","t":52.45,"v":2.56},{"s":"3 nm PbS","t":52.76,"v":2.58},{"s":"3 nm PbS","t":53.05,"v":2.53},{"s":"3 nm PbS","t":53.35,"v":2.55},{"s":"3 nm PbS","t":53.65,"v":2.5},{"s":"3 nm PbS","t":53.93,"v":2.53},{"s":"3 nm PbS","t":54.2,"v":2.49},{"s":"3 nm PbS","t":54.51,"v":2.52},{"s":"3 nm PbS","t":54.9,"v":2.46},{"s":"3 nm PbS","t":55.39,"v":2.49},{"s":"3 nm PbS","t":55.8,"v":2.44},{"s":"3 nm PbS","t":56.27,"v":2.48},{"s":"3 nm PbS","t":56.7,"v":2.43},{"s":"3 nm PbS","t":57.15,"v":2.47},{"s":"3 nm PbS","t":57.6,"v":2.43},{"s":"3 nm PbS","t":58.02,"v":2.47},{"s":"3 nm PbS","t":58.6,"v":2.43},{"s":"3 nm PbS","t":59.19,"v":2.47},{"s":"3 nm PbS","t":59.8,"v":2.44},{"s":"3 nm PbS","t":60.36,"v":2.49},{"s":"3 nm PbS","t":60.9,"v":2.45},{"s":"3 nm PbS","t":61.53,"v":2.49},{"s":"3 nm PbS","t":62.1,"v":2.45},{"s":"3 nm PbS","t":62.7,"v":2.49},{"s":"3 nm PbS","t":63.3,"v":2.45},{"s":"3 nm PbS","t":63.8,"v":2.48},{"s":"3 nm PbS","t":64.3,"v":2.46},
{"s":"5 nm PbS","t":22.02,"v":3.05},{"s":"5 nm PbS","t":22.2,"v":2.96},{"s":"5 nm PbS","t":22.37,"v":3.0},{"s":"5 nm PbS","t":22.55,"v":2.93},{"s":"5 nm PbS","t":22.66,"v":3.02},{"s":"5 nm PbS","t":22.85,"v":2.97},{"s":"5 nm PbS","t":23.01,"v":3.06},{"s":"5 nm PbS","t":23.2,"v":3.0},{"s":"5 nm PbS","t":23.39,"v":3.1},{"s":"5 nm PbS","t":23.6,"v":3.04},{"s":"5 nm PbS","t":23.77,"v":3.15},{"s":"5 nm PbS","t":23.95,"v":3.08},{"s":"5 nm PbS","t":24.12,"v":3.13},{"s":"5 nm PbS","t":24.3,"v":3.12},{"s":"5 nm PbS","t":24.42,"v":3.2},{"s":"5 nm PbS","t":24.55,"v":3.2},{"s":"5 nm PbS","t":24.65,"v":3.3},{"s":"5 nm PbS","t":24.85,"v":3.47},{"s":"5 nm PbS","t":25.0,"v":3.75},{"s":"5 nm PbS","t":25.15,"v":4.02},{"s":"5 nm PbS","t":25.3,"v":4.28},{"s":"5 nm PbS","t":25.44,"v":4.46},{"s":"5 nm PbS","t":25.6,"v":4.7},{"s":"5 nm PbS","t":25.73,"v":4.85},{"s":"5 nm PbS","t":25.85,"v":5.0},{"s":"5 nm PbS","t":25.94,"v":5.12},{"s":"5 nm PbS","t":26.02,"v":5.05},{"s":"5 nm PbS","t":26.11,"v":5.2},{"s":"5 nm PbS","t":26.2,"v":5.08},{"s":"5 nm PbS","t":26.32,"v":5.06},{"s":"5 nm PbS","t":26.42,"v":4.9},{"s":"5 nm PbS","t":26.52,"v":4.74},{"s":"5 nm PbS","t":26.62,"v":4.52},{"s":"5 nm PbS","t":26.75,"v":4.3},{"s":"5 nm PbS","t":26.9,"v":4.08},{"s":"5 nm PbS","t":27.05,"v":3.9},{"s":"5 nm PbS","t":27.2,"v":3.72},{"s":"5 nm PbS","t":27.34,"v":3.63},{"s":"5 nm PbS","t":27.5,"v":3.52},{"s":"5 nm PbS","t":27.63,"v":3.47},{"s":"5 nm PbS","t":27.78,"v":3.55},{"s":"5 nm PbS","t":27.92,"v":3.52},{"s":"5 nm PbS","t":28.06,"v":3.6},{"s":"5 nm PbS","t":28.21,"v":3.5},{"s":"5 nm PbS","t":28.36,"v":3.6},{"s":"5 nm PbS","t":28.51,"v":3.62},{"s":"5 nm PbS","t":28.65,"v":3.68},{"s":"5 nm PbS","t":28.8,"v":3.8},{"s":"5 nm PbS","t":28.95,"v":3.98},{"s":"5 nm PbS","t":29.09,"v":4.24},{"s":"5 nm PbS","t":29.24,"v":4.55},{"s":"5 nm PbS","t":29.38,"v":4.85},{"s":"5 nm PbS","t":29.53,"v":5.2},{"s":"5 nm PbS","t":29.68,"v":5.52},{"s":"5 nm PbS","t":29.8,"v":5.78},{"s":"5 nm PbS","t":29.91,"v":5.96},{"s":"5 nm PbS","t":30.0,"v":6.05},{"s":"5 nm PbS","t":30.11,"v":6.1},{"s":"5 nm PbS","t":30.2,"v":6.02},{"s":"5 nm PbS","t":30.32,"v":5.96},{"s":"5 nm PbS","t":30.42,"v":5.8},{"s":"5 nm PbS","t":30.55,"v":5.57},{"s":"5 nm PbS","t":30.7,"v":5.22},{"s":"5 nm PbS","t":30.84,"v":4.85},{"s":"5 nm PbS","t":31.0,"v":4.5},{"s":"5 nm PbS","t":31.14,"v":4.18},{"s":"5 nm PbS","t":31.28,"v":3.92},{"s":"5 nm PbS","t":31.43,"v":3.74},{"s":"5 nm PbS","t":31.58,"v":3.58},{"s":"5 nm PbS","t":31.72,"v":3.49},{"s":"5 nm PbS","t":31.87,"v":3.44},{"s":"5 nm PbS","t":32.0,"v":3.41},{"s":"5 nm PbS","t":32.16,"v":3.36},{"s":"5 nm PbS","t":32.3,"v":3.44},{"s":"5 nm PbS","t":32.45,"v":3.35},{"s":"5 nm PbS","t":32.6,"v":3.36},{"s":"5 nm PbS","t":32.75,"v":3.42},{"s":"5 nm PbS","t":32.9,"v":3.34},{"s":"5 nm PbS","t":33.04,"v":3.38},{"s":"5 nm PbS","t":33.2,"v":3.3},{"s":"5 nm PbS","t":33.35,"v":3.36},{"s":"5 nm PbS","t":33.47,"v":3.3},{"s":"5 nm PbS","t":33.6,"v":3.37},{"s":"5 nm PbS","t":33.8,"v":3.33},{"s":"5 nm PbS","t":34.06,"v":3.36},{"s":"5 nm PbS","t":34.25,"v":3.31},{"s":"5 nm PbS","t":34.45,"v":3.38},{"s":"5 nm PbS","t":34.64,"v":3.35},{"s":"5 nm PbS","t":34.85,"v":3.41},{"s":"5 nm PbS","t":35.05,"v":3.36},{"s":"5 nm PbS","t":35.23,"v":3.42},{"s":"5 nm PbS","t":35.45,"v":3.38},{"s":"5 nm PbS","t":35.65,"v":3.44},{"s":"5 nm PbS","t":35.81,"v":3.39},{"s":"5 nm PbS","t":36.0,"v":3.43},{"s":"5 nm PbS","t":36.25,"v":3.4},{"s":"5 nm PbS","t":36.54,"v":3.45},{"s":"5 nm PbS","t":36.8,"v":3.39},{"s":"5 nm PbS","t":37.0,"v":3.46},{"s":"5 nm PbS","t":37.27,"v":3.42},{"s":"5 nm PbS","t":37.5,"v":3.47},{"s":"5 nm PbS","t":37.75,"v":3.43},{"s":"5 nm PbS","t":38.0,"v":3.49},{"s":"5 nm PbS","t":38.25,"v":3.44},{"s":"5 nm PbS","t":38.5,"v":3.5},{"s":"5 nm PbS","t":38.73,"v":3.46},{"s":"5 nm PbS","t":39.0,"v":3.51},{"s":"5 nm PbS","t":39.25,"v":3.47},{"s":"5 nm PbS","t":39.47,"v":3.52},{"s":"5 nm PbS","t":39.7,"v":3.48},{"s":"5 nm PbS","t":39.95,"v":3.55},{"s":"5 nm PbS","t":40.2,"v":3.5},{"s":"5 nm PbS","t":40.45,"v":3.56},{"s":"5 nm PbS","t":40.7,"v":3.52},{"s":"5 nm PbS","t":40.93,"v":3.58},{"s":"5 nm PbS","t":41.15,"v":3.58},{"s":"5 nm PbS","t":41.36,"v":3.65},{"s":"5 nm PbS","t":41.5,"v":3.7},{"s":"5 nm PbS","t":41.66,"v":3.8},{"s":"5 nm PbS","t":41.8,"v":3.95},{"s":"5 nm PbS","t":41.95,"v":4.13},{"s":"5 nm PbS","t":42.1,"v":4.35},{"s":"5 nm PbS","t":42.24,"v":4.57},{"s":"5 nm PbS","t":42.4,"v":4.78},{"s":"5 nm PbS","t":42.53,"v":4.96},{"s":"5 nm PbS","t":42.68,"v":5.12},{"s":"5 nm PbS","t":42.83,"v":5.24},{"s":"5 nm PbS","t":42.97,"v":5.3},{"s":"5 nm PbS","t":43.05,"v":5.4},{"s":"5 nm PbS","t":43.12,"v":5.35},{"s":"5 nm PbS","t":43.2,"v":5.4},{"s":"5 nm PbS","t":43.3,"v":5.32},{"s":"5 nm PbS","t":43.41,"v":5.29},{"s":"5 nm PbS","t":43.55,"v":5.15},{"s":"5 nm PbS","t":43.7,"v":5.02},{"s":"5 nm PbS","t":43.85,"v":4.8},{"s":"5 nm PbS","t":43.99,"v":4.57},{"s":"5 nm PbS","t":44.14,"v":4.35},{"s":"5 nm PbS","t":44.29,"v":4.13},{"s":"5 nm PbS","t":44.43,"v":3.95},{"s":"5 nm PbS","t":44.58,"v":3.79},{"s":"5 nm PbS","t":44.73,"v":3.7},{"s":"5 nm PbS","t":44.87,"v":3.63},{"s":"5 nm PbS","t":45.1,"v":3.58},{"s":"5 nm PbS","t":45.31,"v":3.56},{"s":"5 nm PbS","t":45.5,"v":3.5},{"s":"5 nm PbS","t":45.7,"v":3.55},{"s":"5 nm PbS","t":46.04,"v":3.5},{"s":"5 nm PbS","t":46.3,"v":3.54},{"s":"5 nm PbS","t":46.55,"v":3.49},{"s":"5 nm PbS","t":46.77,"v":3.53},{"s":"5 nm PbS","t":47.0,"v":3.5},{"s":"5 nm PbS","t":47.25,"v":3.55},{"s":"5 nm PbS","t":47.5,"v":3.51},{"s":"5 nm PbS","t":47.75,"v":3.56},{"s":"5 nm PbS","t":48.0,"v":3.54},{"s":"5 nm PbS","t":48.23,"v":3.58},{"s":"5 nm PbS","t":48.5,"v":3.55},{"s":"5 nm PbS","t":48.75,"v":3.6},{"s":"5 nm PbS","t":48.96,"v":3.6},{"s":"5 nm PbS","t":49.2,"v":3.64},{"s":"5 nm PbS","t":49.4,"v":3.68},{"s":"5 nm PbS","t":49.55,"v":3.72},{"s":"5 nm PbS","t":49.75,"v":3.8},{"s":"5 nm PbS","t":49.99,"v":3.91},{"s":"5 nm PbS","t":50.2,"v":4.02},{"s":"5 nm PbS","t":50.42,"v":4.13},{"s":"5 nm PbS","t":50.6,"v":4.2},{"s":"5 nm PbS","t":50.75,"v":4.22},{"s":"5 nm PbS","t":50.86,"v":4.26},{"s":"5 nm PbS","t":51.0,"v":4.22},{"s":"5 nm PbS","t":51.15,"v":4.22},{"s":"5 nm PbS","t":51.3,"v":4.15},{"s":"5 nm PbS","t":51.45,"v":4.1},{"s":"5 nm PbS","t":51.6,"v":4.02},{"s":"5 nm PbS","t":51.74,"v":3.96},{"s":"5 nm PbS","t":51.95,"v":3.88},{"s":"5 nm PbS","t":52.18,"v":3.82},{"s":"5 nm PbS","t":52.4,"v":3.8},{"s":"5 nm PbS","t":52.62,"v":3.77},{"s":"5 nm PbS","t":52.8,"v":3.8},{"s":"5 nm PbS","t":53.05,"v":3.79},{"s":"5 nm PbS","t":53.25,"v":3.83},{"s":"5 nm PbS","t":53.49,"v":3.82},{"s":"5 nm PbS","t":53.7,"v":3.8},{"s":"5 nm PbS","t":53.93,"v":3.77},{"s":"5 nm PbS","t":54.15,"v":3.7},{"s":"5 nm PbS","t":54.37,"v":3.66},{"s":"5 nm PbS","t":54.6,"v":3.58},{"s":"5 nm PbS","t":54.81,"v":3.55},{"s":"5 nm PbS","t":55.1,"v":3.5},{"s":"5 nm PbS","t":55.3,"v":3.53},{"s":"5 nm PbS","t":55.54,"v":3.48},{"s":"5 nm PbS","t":55.8,"v":3.51},{"s":"5 nm PbS","t":56.0,"v":3.47},{"s":"5 nm PbS","t":56.27,"v":3.5},{"s":"5 nm PbS","t":56.5,"v":3.46},{"s":"5 nm PbS","t":56.75,"v":3.49},{"s":"5 nm PbS","t":57.0,"v":3.45},{"s":"5 nm PbS","t":57.3,"v":3.5},{"s":"5 nm PbS","t":57.5,"v":3.46},{"s":"5 nm PbS","t":57.73,"v":3.49},{"s":"5 nm PbS","t":58.0,"v":3.45},{"s":"5 nm PbS","t":58.25,"v":3.5},{"s":"5 nm PbS","t":58.46,"v":3.47},{"s":"5 nm PbS","t":58.7,"v":3.5},{"s":"5 nm PbS","t":58.95,"v":3.47},{"s":"5 nm PbS","t":59.19,"v":3.51},{"s":"5 nm PbS","t":59.45,"v":3.49},{"s":"5 nm PbS","t":59.7,"v":3.53},{"s":"5 nm PbS","t":59.92,"v":3.51},{"s":"5 nm PbS","t":60.2,"v":3.55},{"s":"5 nm PbS","t":60.45,"v":3.53},{"s":"5 nm PbS","t":60.65,"v":3.56},{"s":"5 nm PbS","t":60.9,"v":3.56},{"s":"5 nm PbS","t":61.15,"v":3.6},{"s":"5 nm PbS","t":61.38,"v":3.6},{"s":"5 nm PbS","t":61.6,"v":3.64},{"s":"5 nm PbS","t":61.85,"v":3.64},{"s":"5 nm PbS","t":62.11,"v":3.67},{"s":"5 nm PbS","t":62.4,"v":3.65},{"s":"5 nm PbS","t":62.7,"v":3.67},{"s":"5 nm PbS","t":62.95,"v":3.62},{"s":"5 nm PbS","t":63.28,"v":3.6},{"s":"5 nm PbS","t":63.6,"v":3.57},{"s":"5 nm PbS","t":63.87,"v":3.55},{"s":"5 nm PbS","t":64.3,"v":3.52}
],
"ref": [
{"t":22.02,"v":0.628},{"t":24.12,"v":0.639},{"t":25.0,"v":0.656},{"t":25.35,"v":0.75},{"t":25.58,"v":0.906},{"t":25.73,"v":1.183},{"t":25.85,"v":1.406},{"t":25.96,"v":1.472},{"t":26.08,"v":1.406},{"t":26.2,"v":1.156},{"t":26.34,"v":0.878},{"t":26.55,"v":0.75},{"t":26.9,"v":0.683},{"t":27.63,"v":0.65},{"t":28.51,"v":0.656},{"t":29.24,"v":0.694},{"t":29.59,"v":0.783},{"t":29.79,"v":1.017},{"t":29.91,"v":1.322},{"t":30.03,"v":1.517},{"t":30.14,"v":1.35},{"t":30.26,"v":1.044},{"t":30.44,"v":0.822},{"t":30.7,"v":0.711},{"t":31.28,"v":0.65},{"t":32.89,"v":0.617},{"t":35.81,"v":0.6},{"t":38.73,"v":0.589},{"t":41.66,"v":0.589},{"t":42.3,"v":0.617},{"t":42.62,"v":0.711},{"t":42.89,"v":0.822},{"t":43.06,"v":0.85},{"t":43.26,"v":0.811},{"t":43.5,"v":0.711},{"t":43.79,"v":0.628},{"t":44.29,"v":0.594},{"t":46.04,"v":0.578},{"t":48.96,"v":0.572},{"t":50.28,"v":0.589},{"t":50.57,"v":0.639},{"t":50.77,"v":0.683},{"t":50.95,"v":0.7},{"t":51.15,"v":0.672},{"t":51.45,"v":0.606},{"t":51.88,"v":0.578},{"t":52.62,"v":0.589},{"t":53.05,"v":0.617},{"t":53.35,"v":0.633},{"t":53.64,"v":0.617},{"t":54.08,"v":0.578},{"t":55.1,"v":0.556},{"t":57.73,"v":0.544},{"t":60.65,"v":0.544},{"t":61.82,"v":0.556},{"t":62.26,"v":0.583},{"t":62.7,"v":0.567},{"t":64.3,"v":0.55}
],
"card": [
{"t":22.0,"v":0},{"t":25.45,"v":0},{"t":25.55,"v":0.05},{"t":25.62,"v":0.82},{"t":25.68,"v":0.82},{"t":25.75,"v":0.05},{"t":25.85,"v":0},{"t":29.55,"v":0},{"t":29.63,"v":0.05},{"t":29.7,"v":0.77},{"t":29.76,"v":0.77},{"t":29.83,"v":0.05},{"t":29.93,"v":0},{"t":42.35,"v":0},{"t":42.42,"v":0.05},{"t":42.47,"v":0.5},{"t":42.52,"v":0.5},{"t":42.57,"v":0.05},{"t":42.65,"v":0},{"t":50.22,"v":0},{"t":50.28,"v":0.28},{"t":50.33,"v":0.28},{"t":50.4,"v":0.02},{"t":50.48,"v":0},{"t":52.66,"v":0},{"t":52.72,"v":0.13},{"t":52.78,"v":0.13},{"t":52.84,"v":0},{"t":61.7,"v":0},{"t":61.76,"v":0.04},{"t":61.82,"v":0},{"t":64.3,"v":0}
]
},
"spacing": 22.7,
"hconcat": [
{
 "bounds": "flush",
 "spacing": 14,
 "vconcat": [
  {
   "width": 554, "height": 214,
   "layer": [
    {"data": {"name": "abs"},
     "mark": {"type": "line", "strokeWidth": 2, "clip": true},
     "encoding": {
      "x": {"field": "E", "type": "quantitative", "scale": {"domain": [0.747, 2.103], "nice": false, "zero": false},
            "axis": {"orient": "bottom", "values": [0.8, 1, 1.2, 1.4, 1.6, 1.8, 2], "labels": false, "grid": true, "gridColor": "#dcdcdc", "title": null}},
      "y": {"field": "v", "type": "quantitative", "scale": {"domain": [-0.094, 1.5], "nice": false, "zero": false},
            "axis": {"orient": "left", "values": [0, 0.5, 1], "labels": false, "title": "Normalised to intensity maximum", "titlePadding": 21, "titleY": 208.5, "titleFontSize": 21}},
      "color": {"field": "s", "type": "nominal", "scale": {"domain": ["2 nm PbS", "3 nm PbS", "5 nm PbS"], "range": ["#0072BD", "#EDB120", "#FF0000"]},
                "legend": {"orient": "none", "legendX": 84.7, "legendY": -47.4, "direction": "horizontal", "columns": 3, "title": null, "symbolType": "M-1,0H3", "symbolSize": 400, "symbolStrokeWidth": 2, "labelFontSize": 19, "labelColor": "black", "labelOffset": 20, "columnPadding": 1, "padding": 5, "strokeColor": "#262626", "fillColor": "white"}}
     }},
    {"data": {"values": [{}]},
     "mark": {"type": "text", "text": "Absorption", "align": "right", "baseline": "alphabetic", "fontSize": 22, "color": "black"},
     "encoding": {
      "x": {"datum": 2.058, "type": "quantitative", "axis": {"orient": "top", "values": [0.8, 1, 1.2, 1.4, 1.6, 1.8, 2], "labels": false, "title": null}},
      "y": {"datum": 0, "type": "quantitative", "axis": {"orient": "right", "values": [0, 0.5, 1], "labels": false, "title": null}}
     }}
   ],
   "resolve": {"axis": {"x": "independent", "y": "independent"}}
  },
  {
   "width": 554, "height": 206,
   "layer": [
    {"data": {"name": "fluo"},
     "mark": {"type": "line", "strokeWidth": 2, "clip": true},
     "encoding": {
      "x": {"field": "E", "type": "quantitative", "scale": {"domain": [0.741, 2.097], "nice": false, "zero": false},
            "axis": {"orient": "bottom", "values": [0.8, 1, 1.2, 1.4, 1.6, 1.8, 2], "format": "~g", "grid": true, "gridColor": "#dcdcdc", "title": "Energy [eV]", "titlePadding": 6}},
      "y": {"field": "v", "type": "quantitative", "scale": {"domain": [0, 0.76], "nice": false, "zero": false},
            "axis": {"orient": "left", "values": [0, 0.25, 0.5, 0.75], "labels": false, "title": null}},
      "color": {"field": "s", "type": "nominal", "scale": {"domain": ["2 nm PbS", "3 nm PbS", "5 nm PbS"], "range": ["#0072BD", "#EDB120", "#FF0000"]},
                "legend": {"orient": "none", "legendX": 84.7, "legendY": -47.4, "direction": "horizontal", "columns": 3, "title": null, "symbolType": "M-1,0H3", "symbolSize": 400, "symbolStrokeWidth": 2, "labelFontSize": 19, "labelColor": "black", "labelOffset": 20, "columnPadding": 1, "padding": 5, "strokeColor": "#262626", "fillColor": "white"}}
     }},
    {"data": {"values": [{}]},
     "mark": {"type": "text", "text": "Fluorescence", "align": "right", "baseline": "alphabetic", "fontSize": 22, "color": "black"},
     "encoding": {
      "x": {"datum": 2.057, "type": "quantitative", "axis": {"orient": "top", "values": [0.8, 1, 1.2, 1.4, 1.6, 1.8, 2], "labels": false, "title": null}},
      "y": {"datum": 0.647, "type": "quantitative", "axis": {"orient": "right", "values": [0, 0.25, 0.5, 0.75], "labels": false, "title": null}}
     }}
   ],
   "resolve": {"axis": {"x": "independent", "y": "independent"}}
  }
 ]
},
{
 "bounds": "flush",
 "spacing": 0,
 "vconcat": [
  {"width": 507, "height": 26, "view": {"stroke": null}, "data": {"values": []}, "mark": "point"},
  {
   "width": 507, "height": 389,
   "view": {"stroke": null},
   "layer": [
    {"layer": [
      {"data": {"name": "xrd"},
       "mark": {"type": "line", "strokeWidth": 2.8, "clip": true},
       "encoding": {
        "x": {"field": "t", "type": "quantitative", "scale": {"domain": [22, 64.04], "nice": false, "zero": false},
              "axis": {"orient": "bottom", "values": [25, 30, 35, 40, 45, 50, 55, 60], "grid": true, "gridColor": "#dcdcdc", "domain": true, "title": "Position (2θ)", "titlePadding": 6, "titleX": 258.3}},
        "y": {"field": "v", "type": "quantitative", "scale": {"domain": [-0.25, 6.24], "nice": false, "zero": false},
              "axis": {"orient": "left", "values": [0, 1, 2, 3, 4, 5, 6], "labels": false, "domain": true, "title": "Intensity [a.u.]", "titlePadding": 12, "titleFontSize": 20}},
        "color": {"field": "s", "type": "nominal", "scale": {"domain": ["2 nm PbS", "3 nm PbS", "5 nm PbS"], "range": ["#0072BD", "#EDB120", "#FF0000"]},
                  "legend": {"orient": "none", "legendX": 84.7, "legendY": -47.4, "direction": "horizontal", "columns": 3, "title": null, "symbolType": "M-1,0H3", "symbolSize": 400, "symbolStrokeWidth": 2, "labelFontSize": 19, "labelColor": "black", "labelOffset": 20, "columnPadding": 1, "padding": 5, "strokeColor": "#262626", "fillColor": "white"}}
       }},
      {"data": {"name": "ref"},
       "mark": {"type": "line", "color": "black", "strokeWidth": 1.8, "clip": true},
       "encoding": {"x": {"field": "t", "type": "quantitative"}, "y": {"field": "v", "type": "quantitative"}}},
      {"data": {"name": "card"},
       "mark": {"type": "line", "color": "black", "strokeWidth": 2, "strokeDash": [8, 3, 2, 3], "clip": true},
       "encoding": {"x": {"field": "t", "type": "quantitative"}, "y": {"field": "v", "type": "quantitative"}}},
      {"data": {"values": [{}]}, "mark": {"type": "text", "text": "5 nm PbS", "align": "left", "baseline": "middle", "fontSize": 19, "fontWeight": "bold", "color": "#FF0000", "clip": true},
       "encoding": {"x": {"datum": 56.65, "type": "quantitative"}, "y": {"datum": 4.0, "type": "quantitative"}}},
      {"data": {"values": [{}]}, "mark": {"type": "text", "text": "3 nm PbS", "align": "left", "baseline": "middle", "fontSize": 19, "fontWeight": "bold", "color": "#EDB120", "clip": true},
       "encoding": {"x": {"datum": 56.65, "type": "quantitative"}, "y": {"datum": 2.84, "type": "quantitative"}}},
      {"data": {"values": [{}]}, "mark": {"type": "text", "text": "2 nm PbS", "align": "left", "baseline": "middle", "fontSize": 19, "fontWeight": "bold", "color": "#0072BD", "clip": true},
       "encoding": {"x": {"datum": 56.71, "type": "quantitative"}, "y": {"datum": 1.88, "type": "quantitative"}}},
      {"data": {"values": [{}]}, "mark": {"type": "text", "text": "PbS ref", "align": "left", "baseline": "middle", "fontSize": 19, "fontWeight": "bold", "color": "black", "clip": true},
       "encoding": {"x": {"datum": 58.17, "type": "quantitative"}, "y": {"datum": 0.92, "type": "quantitative"}}},
      {"data": {"values": [{}]}, "mark": {"type": "text", "text": "XRD", "align": "left", "baseline": "middle", "fontSize": 19, "fontWeight": "bold", "color": "black", "clip": true},
       "encoding": {"x": {"datum": 58.17, "type": "quantitative"}, "y": {"datum": 0.33, "type": "quantitative"}}},
      {"data": {"values": [{}]}, "mark": {"type": "text", "text": "card", "align": "left", "baseline": "middle", "fontSize": 13, "fontWeight": "bold", "color": "black", "clip": true},
       "encoding": {"x": {"datum": 61.67, "type": "quantitative"}, "y": {"datum": 0.117, "type": "quantitative"}}}
    ]},
    {"data": {"values": [{}]},
     "mark": {"type": "text", "text": "XRD", "align": "right", "baseline": "alphabetic", "fontSize": 22, "color": "black"},
     "encoding": {
      "x": {"datum": 63.67, "type": "quantitative", "axis": {"orient": "top", "values": [25, 30, 35, 40, 45, 50, 55, 60], "labels": false, "domain": true, "title": null}},
      "y": {"datum": 5.733, "type": "quantitative", "axis": null}
     }}
   ],
   "resolve": {"axis": {"x": "independent", "y": "independent"}}
  }
 ]
}
]
}
